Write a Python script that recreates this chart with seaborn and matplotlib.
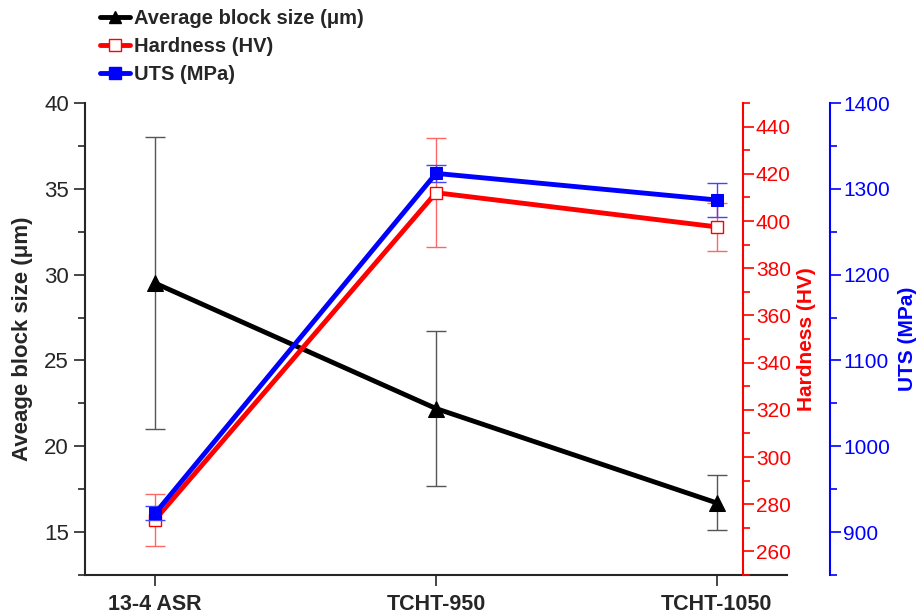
import numpy as np
import pandas as pd
import matplotlib
matplotlib.use("Agg")
import matplotlib.pyplot as plt
import seaborn as sns
from matplotlib.ticker import MultipleLocator
from matplotlib.lines import Line2D

categories = ["13-4 ASR", "TCHT-950", "TCHT-1050"]
block_size = [29.5, 22.2, 16.7]
block_err = [8.5, 4.5, 1.6]
hardness = [273.5, 412.0, 397.5]
hardness_err = [11.0, 23.0, 10.0]
uts = [922.0, 1318.0, 1287.0]
uts_err = [8.0, 10.0, 20.0]

sns.set_style("ticks")
plt.rcParams['font.family'] = ['Liberation Sans', 'DejaVu Sans']

df = pd.DataFrame({"pos": np.arange(len(categories)), "cat": categories,
                   "block": block_size, "hv": hardness, "uts": uts})

fig = plt.figure(figsize=(9.22, 6.15), dpi=100)
ax = fig.add_axes([0.0922, 0.065, 0.7614, 0.7675])
ax2 = ax.twinx()
ax3 = ax.twinx()

BLACK, RED, BLUE = "black", "#ff0000", "#0000ff"

# black
ax.errorbar(df["pos"], df["block"], yerr=block_err, fmt="none", ecolor="#555555",
            elinewidth=1, capsize=7, capthick=1, zorder=2)
sns.lineplot(data=df, x="pos", y="block", ax=ax, color=BLACK, linewidth=3.5,
             marker="^", markersize=11, markeredgecolor=BLACK, zorder=3, legend=False)
# red
ax2.errorbar(df["pos"], df["hv"], yerr=hardness_err, fmt="none", ecolor="#ff6666",
             elinewidth=1, capsize=7, capthick=1, zorder=2)
sns.lineplot(data=df, x="pos", y="hv", ax=ax2, color=RED, linewidth=3.5,
             marker="s", markersize=9, markerfacecolor="white", markeredgecolor=RED,
             markeredgewidth=1, zorder=3, legend=False)
# blue
ax3.errorbar(df["pos"], df["uts"], yerr=uts_err, fmt="none", ecolor="#4444ff",
             elinewidth=1, capsize=7, capthick=1, zorder=2)
sns.lineplot(data=df, x="pos", y="uts", ax=ax3, color=BLUE, linewidth=3.5,
             marker="s", markersize=9, markeredgecolor=BLUE, zorder=3, legend=False)

# x axis
ax.set_xlim(-0.25, 2.25)
ax.set_xticks(df["pos"])
ax.set_xticklabels(categories, fontsize=15.5, fontweight="bold")
ax.set_xlabel("")

# left axis
ax.set_ylim(12.5, 40)
ax.yaxis.set_major_locator(MultipleLocator(5))
ax.yaxis.set_minor_locator(MultipleLocator(2.5))
ax.set_ylabel("Aveage block size (\u03bcm)", fontsize=16, fontweight="bold", labelpad=8)
ax.tick_params(axis="y", which="major", labelsize=16, length=8, width=1.2)
ax.tick_params(axis="y", which="minor", length=5, width=1.2)
ax.tick_params(axis="x", which="major", length=8, width=1.2, pad=6)
for s in ["top", "right"]:
    ax.spines[s].set_visible(False)
ax.spines["left"].set_linewidth(1.5)
ax.spines["bottom"].set_linewidth(1.5)

# red axis
ax2.set_ylim(250, 450)
ax2.yaxis.set_major_locator(MultipleLocator(20))
ax2.yaxis.set_minor_locator(MultipleLocator(10))
for s in ["top", "left", "bottom"]:
    ax2.spines[s].set_visible(False)
ax2.spines["right"].set_position(("axes", 0.937))
ax2.spines["right"].set_color(RED)
ax2.spines["right"].set_linewidth(1.5)
ax2.tick_params(axis="y", which="major", colors=RED, labelsize=15, length=8, width=1.2, pad=1.5)
ax2.tick_params(axis="y", which="minor", colors=RED, length=5, width=1.2)
ax2.set_ylabel("Hardness (HV)", color=RED, fontsize=15, fontweight="bold", labelpad=4)

# blue axis
ax3.set_ylim(850, 1400)
ax3.yaxis.set_major_locator(MultipleLocator(100))
ax3.yaxis.set_minor_locator(MultipleLocator(50))
for s in ["top", "left", "bottom"]:
    ax3.spines[s].set_visible(False)
ax3.spines["right"].set_position(("axes", 1.061))
ax3.spines["right"].set_color(BLUE)
ax3.spines["right"].set_linewidth(1.5)
ax3.tick_params(axis="y", which="major", colors=BLUE, labelsize=15, length=8, width=1.2, pad=1.5)
ax3.tick_params(axis="y", which="minor", colors=BLUE, length=5, width=1.2)
ax3.set_ylabel("UTS (MPa)", color=BLUE, fontsize=15, fontweight="bold", labelpad=6)

for a in (ax, ax2, ax3):
    a.patch.set_visible(False)

handles = [
    Line2D([], [], color=BLACK, lw=3.5, marker="^", markersize=9),
    Line2D([], [], color=RED, lw=3.5, marker="s", markersize=8, markerfacecolor="white"),
    Line2D([], [], color=BLUE, lw=3.5, marker="s", markersize=8),
]
labels = ["Average block size (\u03bcm)", "Hardness (HV)", "UTS (MPa)"]
fig.legend(handles, labels, loc="upper left", bbox_to_anchor=(0.1, 0.998),
           frameon=False, prop={"weight": "bold", "size": 14.5},
           handlelength=1.5, handletextpad=0.2, labelspacing=0.45, borderaxespad=0)

fig.savefig("out.png", dpi=100)
